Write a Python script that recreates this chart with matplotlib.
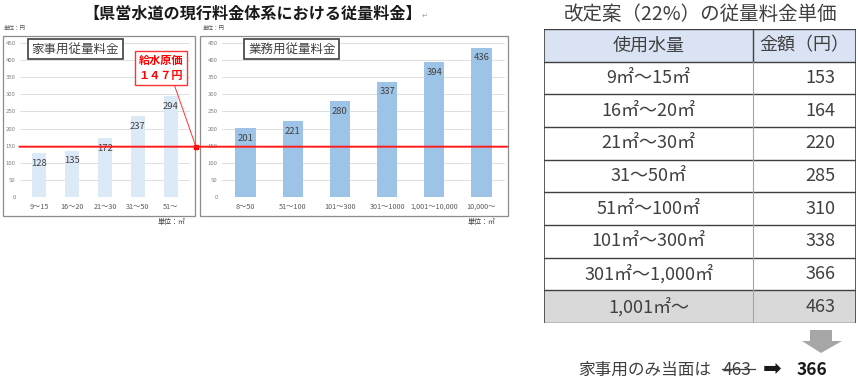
import matplotlib
matplotlib.use("Agg")
import matplotlib.pyplot as plt
from matplotlib.patches import Rectangle, Polygon, ConnectionPatch
from matplotlib.lines import Line2D

plt.rcParams['font.family'] = ['Noto Sans CJK JP', 'DejaVu Sans']

# ================= DATA =================
home_labels = ["9～15", "16～20", "21～30", "31～50", "51～"]
home_values = [128, 135, 172, 237, 294]

biz_labels = ["8～50", "51～100", "101～300", "301～1000", "1,001～10,000", "10,000～"]
biz_values = [201, 221, 280, 337, 394, 436]

supply_cost = 147

table_header = ["使用水量", "金額（円）"]
table_ranges = ["9㎡～15㎡", "16㎡～20㎡", "21㎡～30㎡", "31～50㎡",
                "51㎡～100㎡", "101㎡～300㎡", "301㎡～1,000㎡", "1,001㎡～"]
table_prices = [153, 164, 220, 285, 310, 338, 366, 463]

old_price = 463
new_price = 366

# ================= LAYOUT HELPERS (pixel -> figure) =================
W, H = 858, 379


def fx(x):
    return x / W


def fy(y):
    return 1 - y / H


def box(x0, y0, x1, y1):
    return [x0 / W, 1 - y1 / H, (x1 - x0) / W, (y1 - y0) / H]


fig = plt.figure(figsize=(W / 100, H / 100), dpi=100)
fig.patch.set_facecolor("white")

TXT = "#404040"
TICK = "#7f7f7f"

# ================= PANEL FRAMES =================
for x0, x1 in [(3, 195), (200, 508)]:
    fig.add_artist(Rectangle((fx(x0), fy(216)), (x1 - x0) / W, (216 - 36) / H,
                             transform=fig.transFigure, fill=False,
                             edgecolor="#8c8c8c", lw=0.9))


def bar_panel(rect, labels, values, color, xlim, width):
    ax = fig.add_axes(rect)
    x = range(len(values))
    ax.bar(x, values, width=width, color=color, zorder=2)
    ax.set_xlim(*xlim)
    ax.set_ylim(0, 450)
    ax.set_yticks(range(0, 451, 50))
    ax.set_xticks(list(x))
    ax.set_xticklabels(labels)
    ax.grid(axis="y", color="#d9d9d9", lw=0.6)
    ax.set_axisbelow(True)
    for s in ax.spines.values():
        s.set_visible(False)
    ax.tick_params(axis="y", length=0, labelsize=4.3, colors=TICK, pad=3)
    ax.tick_params(axis="x", length=0, labelsize=5.2, colors="#595959", pad=4)
    for i, v in enumerate(values):
        ax.annotate(str(v), (i, v), xytext=(0, -7.3), textcoords="offset points",
                    ha="center", va="center", fontsize=6.8, color=TXT, zorder=3)
    return ax


ax1 = bar_panel(box(20, 43, 190, 197), home_labels, home_values,
                "#dce9f6", (-0.58, 4.58), 0.42)
ax2 = bar_panel(box(222, 43, 505, 197), biz_labels, biz_values,
                "#9dc3e6", (-0.5, 5.5), 0.43)

# chart titles
ax1.text(0.326, 0.96, "家事用従量料金", transform=ax1.transAxes, ha="center", va="center",
         fontsize=9, color=TXT,
         bbox=dict(boxstyle="square,pad=0.3", fc="white", ec="#404040", lw=1.2))
ax2.text(0.247, 0.96, "業務用従量料金", transform=ax2.transAxes, ha="center", va="center",
         fontsize=9, color=TXT,
         bbox=dict(boxstyle="square,pad=0.3", fc="white", ec="#404040", lw=1.2))

# unit labels
fig.text(fx(4), fy(28), "単位：円", fontsize=4, color="#595959", va="center")
fig.text(fx(203), fy(28), "単位：円", fontsize=4, color="#595959", va="center")
fig.text(fx(158), fy(222), "単位：㎡", fontsize=5, color=TXT, va="center")
fig.text(fx(468), fy(222), "単位：㎡", fontsize=5, color=TXT, va="center")

# supply cost line across both charts
con = ConnectionPatch(xyA=(-0.6, supply_cost), coordsA=ax1.transData,
                      xyB=(5.55, supply_cost), coordsB=ax2.transData,
                      color="#ff1a1a", lw=1.4, zorder=10)
fig.add_artist(con)

# callout
fig.text(fx(161), fy(68), "給水原価\n１４７円", ha="center", va="center",
         fontsize=8, color="#ff0000", fontweight="bold", linespacing=1.15,
         bbox=dict(boxstyle="square,pad=0.3", fc="white", ec="#ff3333", lw=1))
fig.add_artist(Line2D([fx(174), fx(196)], [fy(84), fy(147)],
                      transform=fig.transFigure, color="#ff3333", lw=0.7))
fig.add_artist(Line2D([fx(196)], [fy(147)], transform=fig.transFigure,
                      marker="s", ms=2.5, color="#ff0000", lw=0))

# main title
fig.text(fx(253), fy(14), "【県営水道の現行料金体系における従量料金】", ha="center", va="center",
         fontsize=11.6, fontweight="bold", color="#1a1a1a")
fig.text(fx(425), fy(16), "↵", ha="center", va="center", fontsize=5, color="#a0a0a0")

# ================= TABLE =================
fig.text(fx(700), fy(14), "改定案（22%）の従量料金単価", ha="center", va="center",
         fontsize=14, color=TXT)

tab = fig.add_axes(box(544, 29, 856, 323))
tab.set_xlim(0, 1)
n = len(table_ranges) + 1
tab.set_ylim(n, 0)
tab.axis("off")
split = 0.67

rows = [table_header] + [[r, str(p)] for r, p in zip(table_ranges, table_prices)]
for i, (a, b) in enumerate(rows):
    if i == 0:
        fc = "#dae3f3"
    elif i == n - 1:
        fc = "#d9d9d9"
    else:
        fc = "white"
    tab.add_patch(Rectangle((0, i), 1, 1, fc=fc, ec="none"))
    tab.text(split / 2, i + 0.5, a, ha="center", va="center", fontsize=13, color=TXT)
    if i == 0:
        tab.text((split + 1) / 2, i + 0.5, b, ha="center", va="center", fontsize=13, color=TXT)
    else:
        tab.text(0.935, i + 0.5, b, ha="right", va="center", fontsize=13, color=TXT)

for i in range(n + 1):
    tab.plot([0, 1], [i, i], color="#404040", lw=1)
tab.plot([0, 0], [0, n], color="#404040", lw=1.2)
tab.plot([1, 1], [0, n], color="#404040", lw=1.2)
tab.plot([split, split], [0, 1], color="#404040", lw=1)
tab.plot([split, split], [1, n], color="#a6a6a6", lw=0.8)

# down arrow
pts = [(810, 330), (832, 330), (832, 341), (842, 341), (821, 353), (802, 341), (810, 341)]
fig.add_artist(Polygon([(fx(x), fy(y)) for x, y in pts], closed=True,
                       transform=fig.transFigure, fc="#a6a6a6", ec="none"))

# bottom note
fig.text(fx(578), fy(370), "家事用のみ当面は", ha="left", va="center", fontsize=12, color=TXT)
fig.text(fx(723), fy(370), str(old_price), ha="left", va="center", fontsize=12.5, color=TXT)
fig.add_artist(Line2D([fx(722), fx(755)], [fy(369), fy(369)],
                      transform=fig.transFigure, color=TXT, lw=0.9))
fig.text(fx(772), fy(369), "➡", ha="center", va="center", fontsize=16,
         color="#1a1a1a", family=["DejaVu Sans"])
fig.text(fx(797), fy(370), str(new_price), ha="left", va="center", fontsize=12.5,
         color="#1a1a1a", fontweight="bold")

fig.savefig("out.png", dpi=100)
